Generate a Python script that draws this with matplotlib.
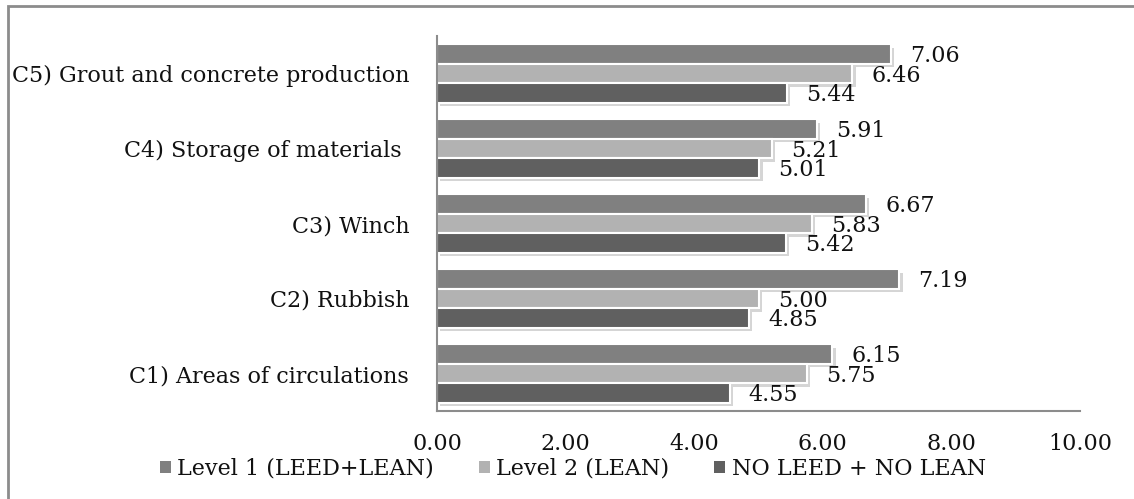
import numpy as np
import matplotlib
matplotlib.use("Agg")
import matplotlib.pyplot as plt
import matplotlib.patheffects as pe
from matplotlib.patches import Rectangle, Patch

# data
categories = ["C1) Areas of circulations", "C2) Rubbish", "C3) Winch",
              "C4) Storage of materials ", "C5) Grout and concrete production"]
series_names = ["Level 1 (LEED+LEAN)", "Level 2 (LEAN)", "NO LEED + NO LEAN"]
level1 = [6.15, 7.19, 6.67, 5.91, 7.06]
level2 = [5.75, 5.00, 5.83, 5.21, 6.46]
no_leed = [4.55, 4.85, 5.42, 5.01, 5.44]
xticks = [0, 2, 4, 6, 8, 10]

colors = ["#808080", "#b2b2b2", "#606060"]

plt.rcParams['font.family'] = ['DejaVu Serif']
fs = 16

fig = plt.figure(figsize=(11.34, 4.99), dpi=100)
ax = fig.add_axes([437/1134, 1 - 411/499, 643/1134, 375/499])

y = np.arange(len(categories))
h = 0.26
shadow = [pe.SimplePatchShadow(offset=(2.5, -2.5), shadow_rgbFace='0.82', alpha=0.9), pe.Normal()]
for vals, off, col in zip([level1, level2, no_leed], [h, 0, -h], colors):
    bars = ax.barh(y + off, vals, height=h, color=col, edgecolor='white', linewidth=1.5)
    for b, v in zip(bars, vals):
        b.set_path_effects(shadow)
        ax.text(v + 0.3, b.get_y() + h / 2 - 0.03, "%.2f" % v, va='center', ha='left',
                fontsize=fs, color='#111111')

ax.set_xlim(0, 10)
ax.set_ylim(-0.5, 4.5)
ax.set_xticks(xticks)
ax.set_xticklabels(["%.2f" % t for t in xticks], fontsize=fs, color='#111111')
ax.set_yticks(y)
ax.set_yticklabels(categories, fontsize=fs, color='#111111')
ax.tick_params(axis='both', length=0)
ax.tick_params(axis='x', pad=16)
ax.tick_params(axis='y', pad=20)
for s in ['top', 'right']:
    ax.spines[s].set_visible(False)
for s in ['left', 'bottom']:
    ax.spines[s].set_color('#8c8c8c')
    ax.spines[s].set_linewidth(1.5)

handles = [Patch(facecolor=c, edgecolor='none') for c in colors]
leg = fig.legend(handles, series_names, loc='center', bbox_to_anchor=(0.505, 1 - 469/499),
                 ncol=3, frameon=False, fontsize=fs, handlelength=0.5, handleheight=0.5,
                 handletextpad=0.3, columnspacing=2.0)
for t in leg.get_texts():
    t.set_color('#111111')

# outer chart border (top and left visible)
fig.patches.append(Rectangle((8/1134, -0.1), 1.2, 1 - 6/499 + 0.1, transform=fig.transFigure,
                             fill=False, edgecolor='#8c8c8c', linewidth=2))

fig.savefig("out.png", dpi=100)
